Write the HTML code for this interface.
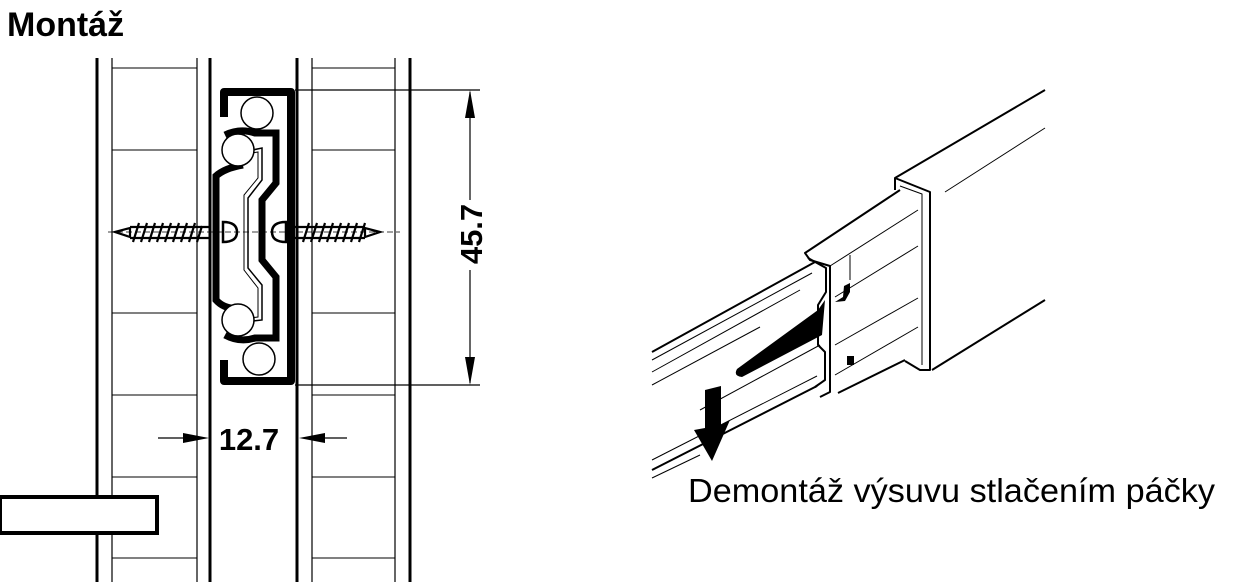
<!DOCTYPE html>
<html><head><meta charset="utf-8"><style>
html,body{margin:0;padding:0;background:#fff;width:1248px;height:588px;overflow:hidden}
svg{display:block}
text{font-family:"Liberation Sans",sans-serif;fill:#000}
</style></head><body>
<svg width="1248" height="588" viewBox="0 0 1248 588" xmlns="http://www.w3.org/2000/svg">
<text x="7" y="36" font-size="34" font-weight="bold">Montáž</text>
<g stroke="#000" fill="none">
 <line x1="97" y1="58" x2="97" y2="582" stroke-width="3"/>
 <line x1="112" y1="58" x2="112" y2="582" stroke-width="1.2"/>
 <line x1="197" y1="58" x2="197" y2="582" stroke-width="1.2"/>
 <line x1="210" y1="58" x2="210" y2="582" stroke-width="3"/>
 <line x1="297" y1="58" x2="297" y2="582" stroke-width="3"/>
 <line x1="312" y1="58" x2="312" y2="582" stroke-width="1.2"/>
 <line x1="395" y1="58" x2="395" y2="582" stroke-width="1.2"/>
 <line x1="410" y1="58" x2="410" y2="582" stroke-width="3"/>
 <g stroke-width="1">
  <path d="M112 68H197M112 150H197M112 313H197M112 395H197M112 477H197M112 558H197"/>
  <path d="M312 68H395M312 150H395M312 313H395M312 395H395M312 477H395M312 558H395"/>
 </g>
 <rect x="0" y="497" width="157" height="36" fill="#fff" stroke-width="4"/>
 <path d="M224 117V92H291V381H224V360" stroke-width="8" stroke-linejoin="round"/>
 <path d="M225 135 Q240 128 255 133 H276 V183 L262 200 V260 L276 277 V338 H255 Q240 343 225 335" stroke-width="7"/>
 <path d="M243 165 Q225 168 216 176 V300 Q225 310 240 308" stroke-width="7"/>
 <path d="M243 152 L262 148 V180 L248 198 V268 L262 285 V320 L243 322" stroke-width="1.5"/>
 <path d="M240 155 L258 152 V178 L244 195 V270 L258 288 V317 L240 319" stroke-width="1"/>
 <circle cx="257" cy="113" r="16" fill="#fff" stroke-width="1.5"/>
 <circle cx="259" cy="359" r="16" fill="#fff" stroke-width="1.5"/>
 <circle cx="238" cy="150" r="16" fill="#fff" stroke-width="1.5"/>
 <circle cx="238" cy="320" r="16" fill="#fff" stroke-width="1.5"/>
 <path d="M223 222 Q237 222 237 232 Q237 242 223 242Z M286 222 Q272 222 272 232 Q272 242 286 242Z" stroke-width="2.5" fill="#fff"/>
 <g stroke-width="2.2">
  <path d="M115 232 L130 228 L130 237Z" fill="#fff"/>
  <path d="M130 227H210M130 238H210M380 232 L365 228 L365 237Z M295 227H365M295 238H365"/>
  <path d="M133 242l6-19M141 242l6-19M149 242l6-19M157 242l6-19M165 242l6-19M173 242l6-19M181 242l6-19M189 242l6-19M197 242l5-16"/>
  <path d="M303 242l6-19M311 242l6-19M319 242l6-19M327 242l6-19M335 242l6-19M343 242l6-19M351 242l6-19M359 242l6-19"/>
 </g>
 <path d="M108 232H400" stroke-width="0.8" stroke-dasharray="6 3"/>
 <path d="M295 90H480M295 385H480M470 92V200M470 270V383M158 438H195M347 438H312" stroke-width="1.2"/>
</g>
<g fill="#000">
 <path d="M470 90 L465 118 L475 118Z M470 385 L465 357 L475 357Z"/>
 <path d="M209 438 L183 433 L183 443Z M299 438 L325 433 L325 443Z"/>
</g>
<text x="249" y="450" font-size="31" font-weight="bold" text-anchor="middle">12.7</text>
<text transform="translate(482,234) rotate(-90)" font-size="31" font-weight="bold" text-anchor="middle">45.7</text>

<g stroke="#000" fill="none" stroke-width="2" stroke-linejoin="round">
 <path d="M1045 90 L895 178 V190"/>
 <path d="M1045 128 L945 192" stroke-width="1"/>
 <path d="M1045 300 L932 370"/>
 <path d="M895 178 L905 182 L930 192 V370 L920 370 L905 361"/>
 <path d="M900 186 L922 194 V365" stroke-width="1"/>
 <path d="M900 190 L805 253 L810 260 L830 266 V392 L820 397"/>
 <path d="M830 266 L918 210" stroke-width="1"/>
 <path d="M835 297 L918 246" stroke-width="1"/>
 <path d="M835 345 L918 298" stroke-width="1"/>
 <path d="M835 375 L918 327" stroke-width="1"/>
 <path d="M838 393 L905 360"/>
 <path d="M808 258 L826 268 L826 292 L818 305 L818 345 L825 352 V380 L815 387" stroke-width="2"/>
 <path d="M652 352 L815 262"/>
 <path d="M652 360 L812 273" stroke-width="1"/>
 <path d="M652 372 L800 290" stroke-width="1"/>
 <path d="M652 385 L760 327" stroke-width="1"/>
 <path d="M700 410 L820 345" stroke-width="1"/>
 <path d="M652 460 L817 376" stroke-width="1"/>
 <path d="M652 470 L817 386"/>
 <path d="M652 478 L700 455" stroke-width="1"/>
 <path d="M850 255 V280" stroke-width="1"/>
</g>
<g fill="#000">
 <path d="M737 369 Q733 376 742 377 L822 335 L825 300 L818 310Z"/>
 <path d="M850 283 L844 286 L843 297 L835 302 L845 301 L850 292Z"/>
 <rect x="847" y="356" width="7" height="9"/>
 <path d="M705 390 L721 386 V425 L730 420 L712 461 L694 430 L705 428Z"/>
</g>
<text x="688" y="502" font-size="33" textLength="527" lengthAdjust="spacingAndGlyphs">Demontáž výsuvu stlačením páčky</text>
</svg>
</body></html>
